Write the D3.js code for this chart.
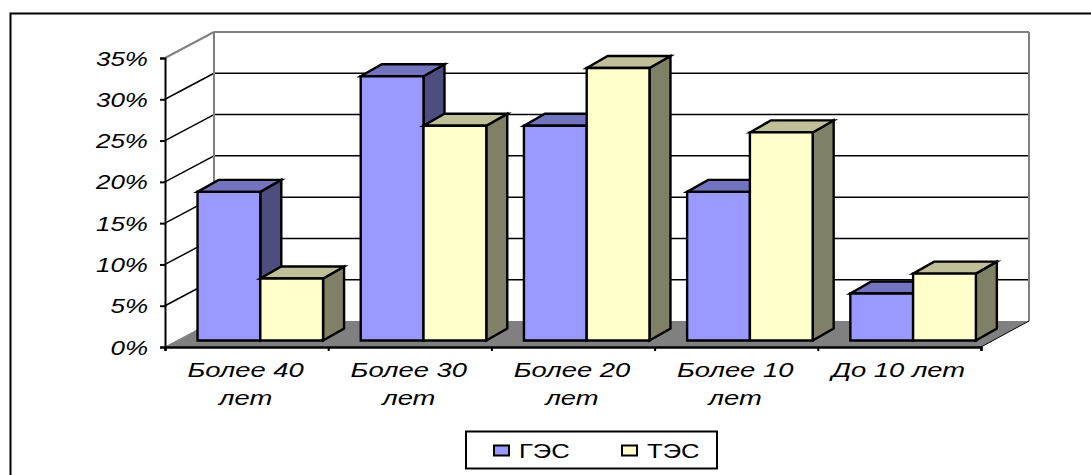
<!DOCTYPE html>
<html>
<head>
<meta charset="utf-8">
<script src="https://cdn.jsdelivr.net/npm/d3@7/dist/d3.min.js"></script>
<style>
html,body{margin:0;padding:0;background:#fff;overflow:hidden}
text{font-family:"Liberation Sans",Arial,sans-serif;fill:#000}
</style>
</head>
<body>
<svg id="chart" width="1091" height="475"></svg>
<script>
const categories = [["Более 40","лет"],["Более 30","лет"],["Более 20","лет"],["Более 10","лет"],["До 10 лет"]];
const seriesNames = ["ГЭС","ТЭС"];
const hydroValues = [18,32,26,18,5.7];
const thermalValues = [7.5,26,33,25.2,8.1];
const tickValues = [0,5,10,15,20,25,30,35];
const frontColors = ["#9999ff","#ffffcc"];
const topColors = ["#7373bf","#bfbf99"];
const sideColors = ["#4d4d80","#808066"];

const svg = d3.select("#chart");
const series = [hydroValues, thermalValues];

// Front plane of the 3D box, and the vector that carries it to the back wall
const left = 165, right = 981, base = 347, top35 = 58;
const depth = {x:49, y:-26};
const barDepth = {x:21, y:-12};
const barOffset = {x:13.7, y:-6.5};

const y = d3.scaleLinear().domain([0,35]).range([base,top35]);
const x0 = d3.scaleBand().domain(d3.range(categories.length)).range([left,right]);
const x1 = d3.scaleBand().domain(d3.range(series.length)).range([0,x0.bandwidth()]).paddingOuter(0.3).paddingInner(0);

const poly = (pts,fill,stroke,sw) => svg.append("polygon")
  .attr("points",pts.map(p=>p.join(",")).join(" "))
  .attr("fill",fill).attr("stroke",stroke||"none").attr("stroke-width",sw||0).attr("stroke-linejoin","miter");
const line = (a,b,stroke,sw) => svg.append("line")
  .attr("x1",a[0]).attr("y1",a[1]).attr("x2",b[0]).attr("y2",b[1])
  .attr("stroke",stroke).attr("stroke-width",sw);

// Outer frame: its right and bottom edges run past the page
svg.append("rect").attr("x",10.5).attr("y",13.5).attr("width",1100).attr("height",480)
  .attr("fill","#fff").attr("stroke","#000").attr("stroke-width",2);

// Floor
poly([[left,base],[right,base],[right+depth.x-1,base+depth.y],[left+depth.x,base+depth.y]],"#808080");

// Gridlines across the side wall and back wall
tickValues.forEach(v=>{
  const yy = y(v);
  const gray = v===35;
  if(v>0){
    line([left,yy],[left+depth.x,yy+depth.y],gray?"#808080":"#000",gray?2:1.5);
    line([left+depth.x,yy+depth.y],[right+depth.x-1,yy+depth.y],gray?"#808080":"#000",gray?2:1.5);
  }
});
line([left+depth.x,y(35)+depth.y],[left+depth.x,base+depth.y],"#808080",2);
line([right+depth.x-1,y(35)+depth.y],[right+depth.x-1,base+depth.y],"#808080",2);
line([left,base],[left+depth.x,base+depth.y],"#808080",1);
line([right,base],[right+depth.x-1,base+depth.y],"#000",1);

// Bars: within a category the second series sits over the first one's side face
const barBase = base+barOffset.y;
const barScale = d3.scaleLinear().domain([0,35]).range([barBase,barBase-(base-top35)]);
categories.forEach((c,i)=>{
  [0,1].forEach(s=>{
    const x = x0(i)+x1(s)+barOffset.x, w = x1.bandwidth();
    const t = barScale(series[s][i]);
    poly([[x+w,t],[x+w+barDepth.x,t+barDepth.y],[x+w+barDepth.x,barBase+barDepth.y],[x+w,barBase]],sideColors[s],"#000",2.4);
    poly([[x,t],[x+barDepth.x,t+barDepth.y],[x+w+barDepth.x,t+barDepth.y],[x+w,t]],topColors[s],"#000",2.4);
    poly([[x,t],[x+w,t],[x+w,barBase],[x,barBase]],frontColors[s],"#000",2.4);
  });
});

// Axes
const yAxis = d3.axisLeft(y).tickValues(tickValues).tickSize(5).tickPadding(0).tickFormat(d=>"");
svg.append("g").attr("transform",`translate(${left},0)`).call(yAxis)
  .call(g=>g.select(".domain").attr("stroke-width",2))
  .call(g=>g.selectAll(".tick line").attr("stroke-width",2));
const xAxis = d3.axisBottom(d3.scaleLinear().domain([0,categories.length]).range([left,right]))
  .ticks(categories.length).tickSize(4).tickFormat(d=>"");
svg.append("g").attr("transform",`translate(0,${base})`).call(xAxis)
  .call(g=>g.select(".domain").attr("stroke-width",2.5))
  .call(g=>g.selectAll(".tick line").attr("stroke-width",2));

// Labels are drawn wide and flat, so each one is scaled horizontally about its anchor
const stretched = (px,py,str,anchor,size,sx,italic) => svg.append("text")
  .attr("transform",`translate(${px},${py}) scale(${sx},1)`)
  .attr("text-anchor",anchor).attr("font-size",size)
  .attr("font-style",italic?"italic":"normal").text(str);

tickValues.forEach(v=>stretched(148,y(v)+7.5,v+"%","end",20,1.3,true));
categories.forEach((c,i)=>{
  const cx = x0(i)+x0.bandwidth()/2-1;
  c.forEach((s,k)=>stretched(cx,377+k*28,s,"middle",20,1.37,true));
});

// Legend
svg.append("rect").attr("x",466).attr("y",431.5).attr("width",251).attr("height",37)
  .attr("fill","#fff").attr("stroke","#000").attr("stroke-width",2);
[494,622].forEach((lx,i)=>{
  svg.append("rect").attr("x",lx).attr("y",445.5).attr("width",15).attr("height",10)
    .attr("fill",frontColors[i]).attr("stroke","#000").attr("stroke-width",2);
  stretched(lx+25,457.5,seriesNames[i],"start",20,1.28,false);
});
</script>
</body>
</html>
